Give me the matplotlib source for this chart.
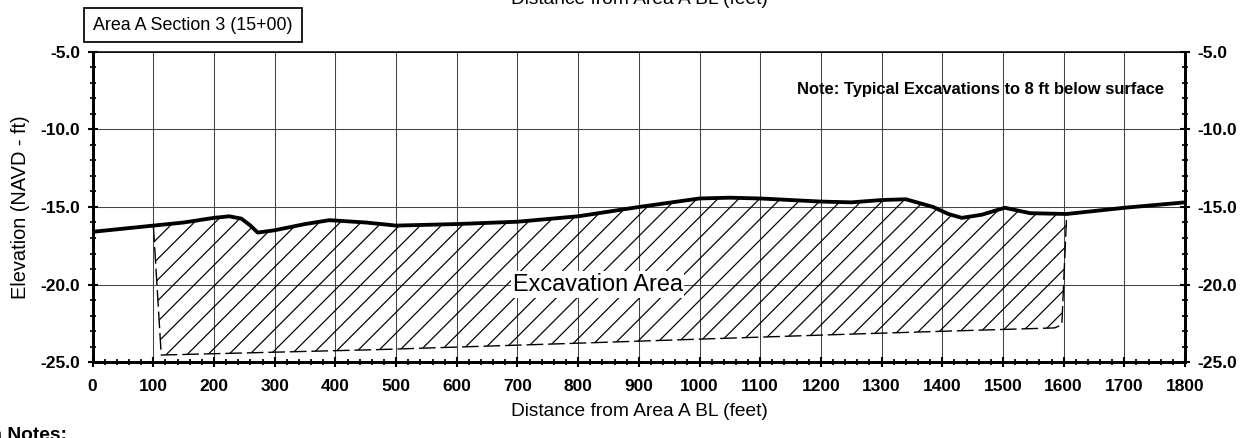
import matplotlib
matplotlib.use("Agg")
import matplotlib.pyplot as plt
import numpy as np
from matplotlib.ticker import MultipleLocator, FormatStrFormatter

# ground surface profile (distance ft, elevation ft NAVD)
ground_x = [0, 100, 150, 200, 225, 245, 260, 272, 300, 350, 390, 450, 500, 600, 700, 800,
            900, 1000, 1050, 1100, 1200, 1250, 1300, 1340, 1385, 1410, 1432, 1465, 1503,
            1545, 1605, 1700, 1800]
ground_y = [-16.6, -16.2, -16.0, -15.7, -15.6, -15.75, -16.2, -16.65, -16.5, -16.1, -15.85,
            -16.0, -16.2, -16.1, -15.95, -15.6, -15.0, -14.45, -14.4, -14.45, -14.65, -14.7,
            -14.55, -14.5, -15.0, -15.45, -15.7, -15.5, -15.05, -15.4, -15.45, -15.05, -14.7]

# excavation limits: left edge, bottom, right edge
excav_x = [100, 113, 470, 750, 1250, 1415, 1585, 1597, 1605]
excav_y = [-16.2, -24.55, -24.2, -23.85, -23.2, -23.0, -22.8, -22.6, -15.45]

x_ticks = list(range(0, 1900, 100))
y_ticks = [-25.0, -20.0, -15.0, -10.0, -5.0]

DPI = 125
plt.rcParams['font.family'] = ['Liberation Sans', 'DejaVu Sans']
plt.rcParams['hatch.linewidth'] = 0.7

fig = plt.figure(figsize=(1254 / DPI, 438 / DPI), dpi=DPI)
ax = fig.add_axes([0.0739, 0.1735, 0.945 - 0.0739, 0.8813 - 0.1735])

# excavation polygon: ground surface on top, excavation limits below
top_x = [x for x in ground_x if excav_x[0] < x < excav_x[-1]]
top_y = [ground_y[ground_x.index(x)] for x in top_x]
poly_x = excav_x + top_x[::-1]
poly_y = excav_y + top_y[::-1]
ax.fill(poly_x, poly_y, facecolor='none', edgecolor='black', linewidth=0, hatch='//', zorder=2)
ax.plot(excav_x, excav_y, color='black', lw=0.8, dashes=(12, 3.5), zorder=3)

ax.plot(ground_x, ground_y, color='black', lw=2.2, zorder=4, solid_capstyle='butt')

ax.text(832, -20, 'Excavation Area', fontsize=13.5, ha='center', va='center', zorder=5,
        bbox=dict(facecolor='white', edgecolor='none', pad=1))
ax.text(1765, -7.4, 'Note: Typical Excavations to 8 ft below surface', fontsize=9.5,
        fontweight='bold', ha='right', va='center', zorder=5)

ax.set_xlim(0, 1800)
ax.set_ylim(-25, -5)
ax.set_xticks(x_ticks)
ax.set_yticks(y_ticks)
ax.xaxis.set_minor_locator(MultipleLocator(20))
ax.yaxis.set_minor_locator(MultipleLocator(1))
ax.yaxis.set_major_formatter(FormatStrFormatter('%.1f'))
ax.grid(True, which='major', color='#444444', lw=0.6, zorder=1)
ax.set_axisbelow(True)

ax.tick_params(which='major', direction='inout', length=5.8, width=1.2, pad=4.4,
               labelsize=10, right=True, labelright=True)
ax.tick_params(which='minor', direction='inout', length=4.0, width=1.0, right=True)
ax.tick_params(axis='x', which='major', pad=7.0)
for lab in ax.get_xticklabels() + ax.get_yticklabels():
    lab.set_fontweight('bold')
for side in ['left', 'right', 'bottom']:
    ax.spines[side].set_linewidth(1.7)
ax.spines['top'].set_linewidth(0.9)

ax.set_ylabel('Elevation (NAVD - ft)', fontsize=11.5, labelpad=6)
fig.text(0.51, 1 - 412 / 438, 'Distance from Area A BL (feet)', fontsize=11,
         ha='center', va='center')
fig.text(0.51, 1 - 4 / 438, 'Distance from Area A BL (feet)', fontsize=11,
         ha='center', va='baseline')
fig.text(-0.012, 1 - 436 / 438, 'm Notes:', fontsize=11, fontweight='bold',
         ha='left', va='center')
fig.text(0.154, 1 - 25 / 438, 'Area A Section 3 (15+00)', fontsize=10.3, ha='center',
         va='center', bbox=dict(boxstyle='square,pad=0.5', facecolor='white',
                                edgecolor='black', lw=1.0))

fig.savefig('out.png', dpi=DPI)
